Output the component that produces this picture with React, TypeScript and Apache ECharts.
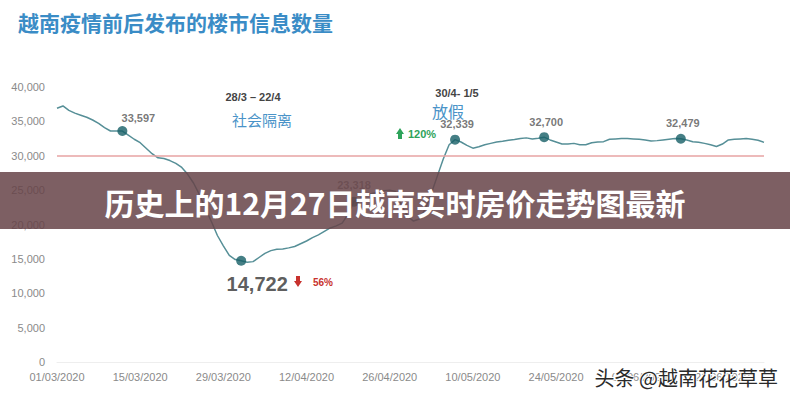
import React, { useEffect, useRef } from "react";
import * as echarts from "echarts";

const START_DATE = [2020, 3, 1];
const listingCounts = [
  36900, 37240, 36600, 36200, 35900, 35600, 35200, 34700, 34100, 33600,
  33600, 33597, 33000, 32400, 31900, 31100, 30300, 29700, 29600, 29300,
  28900, 28300, 27300, 26000, 24300, 22300, 20400, 18400, 16900, 15500,
  14900, 14722, 14500, 14600, 15200, 15800, 16200, 16400, 16450, 16600,
  16800, 17200, 17600, 18100, 18500, 19000, 19500, 19800, 20200, 21500,
  23318, 23800, 24200, 24500, 24700, 24900, 25000, 24800, 22800, 21200,
  20500, 20800, 22300, 24500, 27000, 29500, 31600, 32339, 32000, 31500,
  31100, 31300, 31600, 31800, 32000, 32100, 32250, 32350, 32500, 32600,
  32450, 32550, 32700, 32300, 32000, 31700, 31700, 31800, 31600, 31600,
  31900, 32000, 32050, 32400, 32450, 32500, 32500, 32450, 32400, 32300,
  32150, 32200, 32300, 32400, 32500, 32479, 32300, 32050, 31950, 31800,
  31600, 31350, 31700, 32300, 32400, 32450, 32500, 32400, 32250, 31950,
];
const markedIndices = [11, 31, 50, 67, 82, 105];
const thresholdValue = 30000;
const yTicks = { min: 0, max: 40000, interval: 5000 };

const titleText = "越南疫情前后发布的楼市信息数量";
const bannerText = "历史上的12月27日越南实时房价走势图最新";
const watermarkText = "头条 @越南花花草草";
const lockdownRange = "28/3 – 22/4";
const lockdownLabel = "社会隔离";
const holidayRange = "30/4- 1/5";
const holidayLabel = "放假";
const dropPct = "56%";
const risePct = "120%";

function buildDates(n: number): string[] {
  const out: string[] = [];
  const d0 = new Date(Date.UTC(START_DATE[0], START_DATE[1] - 1, START_DATE[2]));
  for (let i = 0; i < n; i++) {
    const d = new Date(d0.getTime() + i * 86400000);
    const dd = String(d.getUTCDate()).padStart(2, "0");
    const mm = String(d.getUTCMonth() + 1).padStart(2, "0");
    out.push(`${dd}/${mm}/${d.getUTCFullYear()}`);
  }
  return out;
}

const fmt = (v: number) => v.toLocaleString("en-US");

export default function App() {
  const ref = useRef<HTMLDivElement>(null);
  useEffect(() => {
    if (!ref.current) return;
    const chart = echarts.init(ref.current, undefined, { renderer: "svg" });
    const dates = buildDates(listingCounts.length);
    const numFont = "Liberation Sans, Arial, sans-serif";
    const cjkFont = "Noto Sans CJK SC, sans-serif";
    const smallLabel = {
      show: true,
      position: "top",
      distance: 6,
      color: "#555",
      fontSize: 11,
      fontWeight: "bold",
      fontFamily: numFont,
      formatter: (p: any) => fmt(p.value[1]),
    };
    const markerData = markedIndices.map((i) => {
      const item: any = { value: [i, listingCounts[i]] };
      if (i === 11) item.label = { ...smallLabel, offset: [16, 3] };
      else if (i === 31)
        item.label = {
          ...smallLabel,
          position: "bottom",
          distance: 8,
          offset: [16, 0],
          fontSize: 20,
          color: "#333",
        };
      else if (i === 50) item.label = { ...smallLabel, color: "#777" };
      else item.label = { ...smallLabel, offset: [2, 1] };
      return item;
    });

    const option: any = {
      animation: false,
      backgroundColor: "#ffffff",
      grid: { left: 57, right: 26, top: 87, bottom: 38 },
      xAxis: {
        type: "category",
        data: dates,
        boundaryGap: false,
        axisLine: { show: true, lineStyle: { color: "#eeeeee" } },
        axisTick: { show: false },
        splitLine: { show: false },
        axisLabel: {
          interval: 13,
          color: "#8a8a8a",
          fontSize: 11,
          fontFamily: numFont,
          margin: 9,
        },
      },
      yAxis: {
        type: "value",
        min: yTicks.min,
        max: yTicks.max,
        interval: yTicks.interval,
        axisLine: { show: false },
        axisTick: { show: false },
        splitLine: { show: false },
        axisLabel: {
          color: "#8a8a8a",
          fontSize: 11,
          fontFamily: numFont,
          margin: 12,
          formatter: (v: number) => fmt(v),
        },
      },
      series: [
        {
          type: "line",
          data: listingCounts,
          symbol: "none",
          lineStyle: { color: "#568f97", width: 1.5 },
          z: 3,
          markLine: {
            silent: true,
            symbol: "none",
            label: { show: false },
            lineStyle: { color: "#e7a3a3", width: 1.5, type: "solid" },
            data: [{ yAxis: thresholdValue }],
          },
        },
        {
          type: "scatter",
          data: markerData,
          symbol: "circle",
          symbolSize: 10,
          itemStyle: { color: "#175f67" },
          z: 4,
        },
      ],
      graphic: [
        {
          type: "text",
          left: 18,
          top: 11,
          style: {
            text: titleText,
            fill: "#3a8cc6",
            font: `bold 21px ${cjkFont}`,
          },
        },
        {
          type: "text",
          x: 253,
          y: 97,
          style: {
            text: lockdownRange,
            fill: "#444",
            font: `bold 11px ${numFont}`,
            textAlign: "center",
            textVerticalAlign: "middle",
          },
        },
        {
          type: "text",
          x: 262,
          y: 119,
          style: {
            text: lockdownLabel,
            fill: "#4a93c8",
            font: `15px ${cjkFont}`,
            textAlign: "center",
            textVerticalAlign: "middle",
          },
        },
        {
          type: "text",
          x: 457,
          y: 93,
          style: {
            text: holidayRange,
            fill: "#444",
            font: `bold 11px ${numFont}`,
            textAlign: "center",
            textVerticalAlign: "middle",
          },
        },
        {
          type: "text",
          x: 448,
          y: 111,
          style: {
            text: holidayLabel,
            fill: "#4a93c8",
            font: `16px ${cjkFont}`,
            textAlign: "center",
            textVerticalAlign: "middle",
          },
        },
        {
          type: "polygon",
          shape: {
            points: [
              [396, 134], [400, 128], [404, 134], [402, 134], [402, 139], [398, 139], [398, 134],
            ],
          },
          style: { fill: "#2ea35a" },
        },
        {
          type: "text",
          x: 408,
          y: 134,
          style: {
            text: risePct,
            fill: "#2ea35a",
            font: `bold 11px ${numFont}`,
            textVerticalAlign: "middle",
          },
        },
        {
          type: "polygon",
          shape: {
            points: [
              [296, 276], [300, 276], [300, 281], [302, 281], [298, 287], [294, 281], [296, 281],
            ],
          },
          style: { fill: "#c8322e" },
        },
        {
          type: "text",
          x: 313,
          y: 282,
          style: {
            text: dropPct,
            fill: "#c8322e",
            font: `bold 10px ${numFont}`,
            textVerticalAlign: "middle",
          },
        },
        {
          type: "rect",
          z: 100,
          shape: { x: 0, y: 172, width: 790, height: 57 },
          style: { fill: "rgba(102,67,72,0.85)" },
        },
        {
          type: "text",
          z: 101,
          x: 395,
          y: 202,
          style: {
            text: bannerText,
            fill: "#ffffff",
            font: `bold 30px ${cjkFont}`,
            textAlign: "center",
            textVerticalAlign: "middle",
          },
        },
        {
          type: "text",
          z: 101,
          x: 778,
          y: 377,
          style: {
            text: watermarkText,
            fill: "#2a2a2a",
            stroke: "#ffffff",
            lineWidth: 2,
            font: `20px ${cjkFont}`,
            textAlign: "right",
            textVerticalAlign: "middle",
          },
        },
      ],
    };
    chart.setOption(option);
    return () => chart.dispose();
  }, []);
  return (
    <div
      ref={ref}
      style={{ position: "absolute", left: 0, top: 0, width: 790, height: 400 }}
    />
  );
}
